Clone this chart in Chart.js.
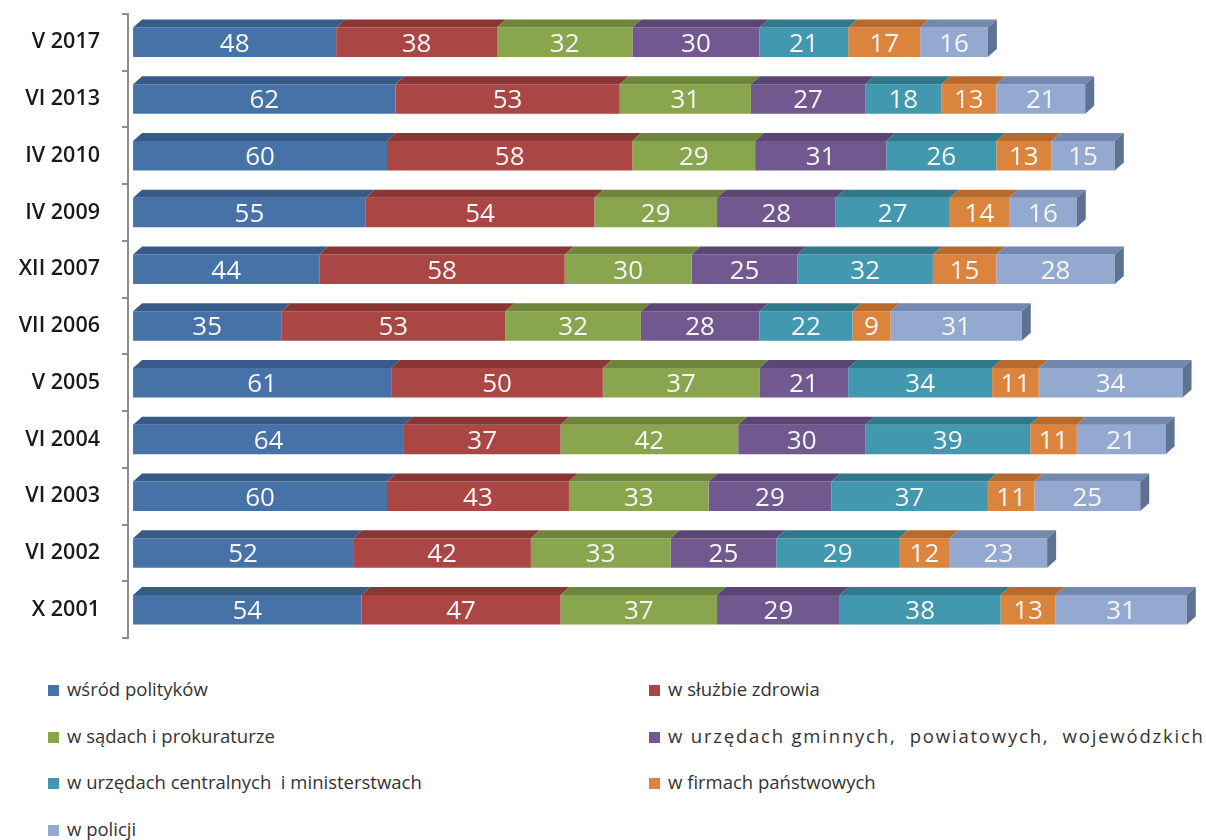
<!DOCTYPE html>
<html lang="pl">
<head>
<meta charset="UTF-8">
<title>Korupcja</title>
<script src="https://cdn.jsdelivr.net/npm/chart.js"></script>
<style>
    body { margin: 0; background: #fff; }
    #wrap { position: relative; width: 1206px; height: 650px; }
    #legend { position: absolute; left: 0; top: 677px; width: 1206px; font-family: "Open Sans", sans-serif; font-size: 18.5px; color: #333; }
    .item { position: absolute; white-space: pre; line-height: 24px; }
    .box { display: inline-block; width: 11px; height: 11px; margin-right: 8px; vertical-align: 0px; }
</style>
</head>
<body>
<div id="wrap"><canvas id="chart"></canvas></div>
<div id="legend"></div>
<script>
    const categories = ["V 2017", "VI 2013", "IV 2010", "IV 2009", "XII 2007", "VII 2006", "V 2005", "VI 2004", "VI 2003", "VI 2002", "X 2001"];
    const seriesNames = [
        "wśród polityków",
        "w służbie zdrowia",
        "w sądach i prokuraturze",
        "w urzędach gminnych,  powiatowych,  wojewódzkich",
        "w urzędach centralnych  i ministerstwach",
        "w firmach państwowych",
        "w policji"
    ];
    const politycy        = [48, 62, 60, 55, 44, 35, 61, 64, 60, 52, 54];
    const zdrowie         = [38, 53, 58, 54, 58, 53, 50, 37, 43, 42, 47];
    const sady            = [32, 31, 29, 29, 30, 32, 37, 42, 33, 33, 37];
    const urzedyLokalne   = [30, 27, 31, 28, 25, 28, 21, 30, 29, 25, 29];
    const urzedyCentralne = [21, 18, 26, 27, 32, 22, 34, 39, 37, 29, 38];
    const firmy           = [17, 13, 13, 14, 15, 9, 11, 11, 11, 12, 13];
    const policja         = [16, 21, 15, 16, 28, 31, 34, 21, 25, 23, 31];

    const series = [politycy, zdrowie, sady, urzedyLokalne, urzedyCentralne, firmy, policja];
    const colors = ["#4672a8", "#aa4643", "#89a54e", "#71588f", "#4198af", "#db843d", "#93a9cf"];
    const topColors = ["#375b88", "#8a3634", "#6e863c", "#5a4574", "#30798d", "#b86a2c", "#7388ae"];
    const sideColor = "#5e7294";

    // 3D look: top face for every segment, side face at the end, and the numbers
    const bar3d = {
        id: "bar3d",
        afterDatasetsDraw(chart) {
            const ctx = chart.ctx;
            const dx = 9, dy = 8;
            const n = chart.data.datasets.length;
            ctx.save();
            for (let di = 0; di < n; di++) {
                const meta = chart.getDatasetMeta(di);
                meta.data.forEach((bar) => {
                    const p = bar.getProps(["x", "y", "base", "height"], true);
                    const top = p.y - p.height / 2, bottom = p.y + p.height / 2;
                    const left = Math.min(p.base, p.x), right = Math.max(p.base, p.x);
                    ctx.fillStyle = topColors[di];
                    ctx.beginPath();
                    ctx.moveTo(left, top);
                    ctx.lineTo(left + dx, top - dy);
                    ctx.lineTo(right + dx, top - dy);
                    ctx.lineTo(right, top);
                    ctx.closePath();
                    ctx.fill();
                    if (di === n - 1) {
                        ctx.fillStyle = sideColor;
                        ctx.beginPath();
                        ctx.moveTo(right, top);
                        ctx.lineTo(right + dx, top - dy);
                        ctx.lineTo(right + dx, bottom - dy);
                        ctx.lineTo(right, bottom);
                        ctx.closePath();
                        ctx.fill();
                    }
                });
            }
            ctx.fillStyle = "#f6f6f6";
            ctx.font = "26px 'Open Sans'";
            ctx.textAlign = "center";
            ctx.textBaseline = "middle";
            for (let di = 0; di < n; di++) {
                const meta = chart.getDatasetMeta(di);
                meta.data.forEach((bar, j) => {
                    const p = bar.getProps(["x", "y", "base"], true);
                    ctx.fillText(String(series[di][j]), (p.base + p.x) / 2, p.y + 2);
                });
            }
            ctx.restore();
        }
    };

    new Chart(document.getElementById("chart"), {
        type: "bar",
        data: {
            labels: categories,
            datasets: series.map((vals, i) => ({
                label: seriesNames[i],
                data: vals,
                backgroundColor: colors[i],
                borderWidth: 0,
                barPercentage: 0.52,
                categoryPercentage: 1
            }))
        },
        options: {
            indexAxis: "y",
            responsive: true,
            maintainAspectRatio: false,
            animation: false,
            layout: { padding: { top: 14, bottom: 12, left: 0, right: 15 } },
            plugins: { legend: { display: false }, tooltip: { enabled: false } },
            scales: {
                x: { stacked: true, display: false, min: -1.2, max: 250 },
                y: {
                    stacked: true,
                    afterFit: (scale) => {
                        scale.width = 128;
                        scale.paddingTop = 0;
                        scale.paddingBottom = 0;
                    },
                    border: { color: "#8c8c8c", width: 2 },
                    grid: { drawOnChartArea: false, tickLength: 6, color: "#8c8c8c", lineWidth: 2 },
                    ticks: { color: "#1a1a1a", padding: 22, font: { family: "Open Sans", size: 21.5, weight: "600" } }
                }
            }
        },
        plugins: [bar3d]
    });

    // legend in two columns, built from the series
    const legend = document.getElementById("legend");
    seriesNames.forEach((name, i) => {
        const el = document.createElement("div");
        el.className = "item";
        el.style.left = (i % 2 === 0 ? 48 : 649) + "px";
        el.style.top = (Math.floor(i / 2) * 46.5) + "px";
        if (i === 3) el.style.letterSpacing = "1.8px";
        el.innerHTML = '<span class="box" style="background:' + colors[i] + '"></span>';
        el.appendChild(document.createTextNode(name));
        legend.appendChild(el);
    });
</script>
</body>
</html>
